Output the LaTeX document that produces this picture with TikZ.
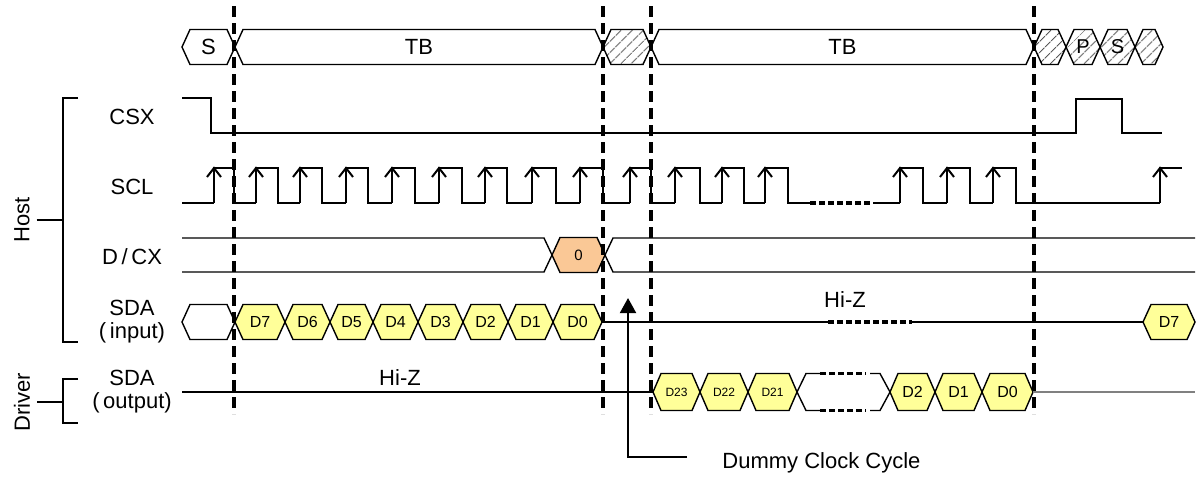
\documentclass[tikz,border=0pt]{standalone}
\usepackage{fontspec}
\setmainfont{Liberation Sans}
\usetikzlibrary{arrows.meta,patterns.meta,positioning}

\definecolor{bityellow}{RGB}{255,255,153}
\definecolor{bitorange}{RGB}{250,200,150}

\tikzset{
  wave/.style={line width=1pt},
  busline/.style={line width=0.7pt},
  marker/.style={line width=1.9pt,dash pattern=on 5.5pt off 3pt},
  gapline/.style={line width=1.8pt,dash pattern=on 3pt off 1.5pt},
  bit/.style={fill=bityellow},
  hatched/.style={pattern={Lines[angle=45,distance=4pt,line width=0.6pt]},pattern color=black!65},
  signame/.style={font=\fontsize{11}{11.5}\selectfont,align=center},
}
\newcommand{\hh}{17.5}
% hexagon from x #1 to #2 at centre y #3; #4 fill, #5 name, #6 font, #7 label
\newcommand{\hexseg}[7]{%
  \draw[busline,#4] (#1,#3) -- (#1+8,#3-\hh) -- (#2-8,#3-\hh) -- (#2,#3)
    -- (#2-8,#3+\hh) -- (#1+8,#3+\hh) -- cycle;
  \node[font=#6] (#5) at ({(#1+#2)/2},#3) {#7};
}

\begin{document}
\begin{tikzpicture}[x=0.5pt,y=-0.5pt]
  \useasboundingbox (0,0) rectangle (1197,479);

  % frame row
  \hexseg{182}{235}{47}{fill=white}{fS}{\fontsize{11}{11}\selectfont}{S}
  \hexseg{235}{603}{47}{fill=white}{fTBa}{\fontsize{11}{11}\selectfont}{TB}
  \hexseg{603}{651}{47}{hatched}{fXa}{\fontsize{11}{11}\selectfont}{}
  \hexseg{651}{1034}{47}{fill=white}{fTBb}{\fontsize{11}{11}\selectfont}{TB}
  \foreach \a/\b/\t in {1034/1066/,1066/1100/P,1100/1135/S,1135/1163/}
    \hexseg{\a}{\b}{47}{hatched}{fX\a}{\fontsize{10}{10}\selectfont}{\t};

  % signal names
  \node[signame] (csx) at (132,117) {CSX};
  \node[signame] (scl) at (132,187) {SCL};
  \node[signame] (dcx) at (132,257) {D\,/\,CX};
  \node[signame] (sdain) at (132,322) {SDA\\(\,input)};
  \node[signame] (sdaout) at (132,392) {SDA\\(\,output)};
  \node[signame,rotate=90] (host) at (22,220) {Host};
  \node[signame,rotate=90] (driver) at (22,402) {Driver};
  \coordinate (htop) at (78,98);
  \coordinate (hbot) at (78,342);
  \coordinate (dtop) at (78,379);
  \coordinate (dbot) at (78,423);
  \draw[busline] (htop) -- (63,98) -- (63,342) -- (hbot);
  \draw[busline] (host.south) -- (63,220);
  \draw[busline] (dtop) -- (63,379) -- (63,423) -- (dbot);
  \draw[busline] (driver.south) -- (63,402);

  % CSX
  \draw[wave] (182,98) -- (211,98) -- (211,133) -- (1076,133) -- (1076,99)
    -- (1122,99) -- (1122,133) -- (1162,133);

  % SCL
  \draw[wave] (182,203) -- (214,203);
  \foreach \r/\f/\n in {214/234/256,256/278/300,300/322/346,346/368/392,
      392/415/439,439/462/485,485/507/532,532/556/580,580/603/630,630/651/675,
      675/700/722,722/744/765,765/788/810,900/923/947,947/970/993,993/1016/1160}{
    \draw[wave] (\r,203) -- (\r,168) -- (\f,168) -- (\f,203) -- (\n,203);
    \draw[wave] (\r-7,177) -- (\r,168) -- (\r+7,177);
  }
  \draw[gapline] (810,203) -- (873,203);
  \draw[wave] (873,203) -- (900,203);
  \draw[wave] (1160,203) -- (1160,168) -- (1182,168);
  \draw[wave] (1153,177) -- (1160,168) -- (1167,177);

  % D/CX
  \draw[busline] (182,238) -- (544,238) -- (552,255) -- (544,272) -- (182,272);
  \draw[busline] (1195,238) -- (613,238) -- (605,255) -- (613,272) -- (1195,272);
  \hexseg{552}{605}{255}{fill=bitorange}{cmd}{\fontsize{7.5}{7.5}\selectfont}{0}

  % SDA (input)
  \hexseg{182}{235}{322}{fill=white}{inX}{\fontsize{8}{8}\selectfont}{}
  \foreach \a/\b/\t in {235/285/D7,285/330/D6,330/373/D5,373/418/D4,
      418/463/D3,463/508/D2,508/553/D1,553/602/D0}
    \hexseg{\a}{\b}{322}{bit}{in\t}{\fontsize{8}{8}\selectfont}{\t};
  \draw[busline] (602,322) -- (828,322);
  \draw[gapline] (828,322) -- (912,322);
  \draw[busline] (912,322) -- (1143,322);
  \node[signame] (hizin) at (845,300) {Hi-Z};
  \hexseg{1143}{1195}{322}{bit}{inNext}{\fontsize{8}{8}\selectfont}{D7}

  % SDA (output)
  \renewcommand{\hh}{18.5}
  \draw[busline] (182,392) -- (653,392);
  \node[signame] (hizout) at (400,378) {Hi-Z};
  \foreach \a/\b/\t in {653/700/D23,700/748/D22,748/797/D21}
    \hexseg{\a}{\b}{392}{bit}{out\t}{\fontsize{6}{6}\selectfont}{\t};
  \foreach \a/\b/\t in {890/935/D2,935/982/D1,982/1033/D0}
    \hexseg{\a}{\b}{392}{bit}{out\t}{\fontsize{8}{8}\selectfont}{\t};
  \draw[busline] (797,392) -- (806,373.5) -- (820,373.5);
  \draw[busline] (797,392) -- (806,410.5) -- (820,410.5);
  \draw[busline] (890,392) -- (880,373.5) -- (870,373.5);
  \draw[busline] (890,392) -- (880,410.5) -- (870,410.5);
  \draw[gapline] (820,373.5) -- (866,373.5);
  \draw[gapline] (820,410.5) -- (866,410.5);
  \draw[busline,gray] (1033,392) -- (1195,392);

  % cycle markers
  \foreach \x in {234,603,651,1034}
    \draw[marker] (\x,6) -- (\x,414);

  % dummy cycle pointer
  \node[signame,anchor=west,inner sep=0pt] (dummy) at (722,463) {Dummy Clock Cycle};
  \coordinate (dstart) at (687,457);
  \coordinate (dcorner) at (628,457);
  \coordinate (dtip) at (628,298);
  \draw[wave,-{Triangle[length=7.5pt,width=8pt]}] (dstart) -- (dcorner) -- (dtip);
\end{tikzpicture}
\end{document}
